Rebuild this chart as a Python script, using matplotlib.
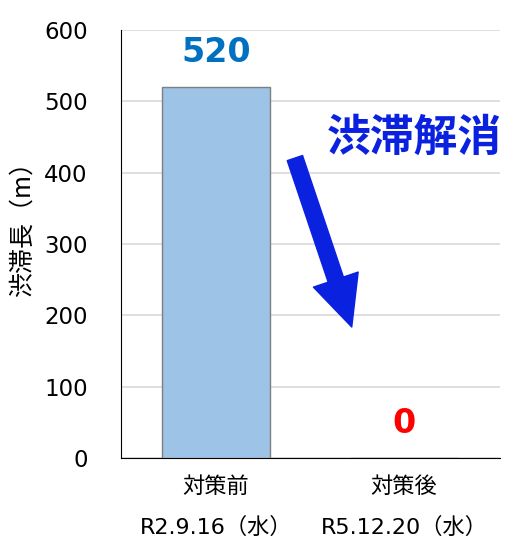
import matplotlib
matplotlib.use("Agg")
import matplotlib.pyplot as plt

plt.rcParams['font.family'] = ['DejaVu Sans', 'Noto Sans CJK JP']

# data
categories = ["対策前\nR2.9.16（水）", "対策後\nR5.12.20（水）"]
values = [520, 0]
label_colors = ["#0070C0", "#FF0000"]
yticks = [0, 100, 200, 300, 400, 500, 600]

fig = plt.figure(figsize=(5.06, 5.49), dpi=100)
ax = fig.add_axes([0.239, 0.166, 0.749, 0.779])

x = list(range(len(categories)))
ax.bar(x, values, width=0.575, color="#9DC3E6", edgecolor="#7F7F7F", linewidth=1, zorder=3)

for xi, v, c in zip(x, values, label_colors):
    ax.annotate(str(v), (xi, v), xytext=(0, 25), textcoords="offset points",
                ha="center", va="center", fontsize=24, fontweight="bold", color=c)

ax.set_xlim(-0.505, 1.51)
ax.set_ylim(0, 600)
ax.set_yticks(yticks)
ax.set_xticks(x)
ax.set_xticklabels(categories, fontsize=16, linespacing=2.15)
ax.tick_params(axis="y", labelsize=16.5, length=0, pad=24)
ax.tick_params(axis="x", length=0, pad=13)
ax.grid(axis="y", color="#D9D9D9", linewidth=1.2, zorder=0)
ax.spines["top"].set_visible(False)
ax.spines["right"].set_visible(False)
ax.spines["left"].set_color("black")
ax.spines["bottom"].set_color("black")
ax.set_ylabel("渋滞長（m）", fontsize=18, family=['Noto Sans CJK JP', 'DejaVu Sans'])
ax.yaxis.set_label_coords(-0.225, 0.55)

# annotation
ax.text(0.543, 0.748, "渋滞解消", transform=ax.transAxes, ha="left", va="center",
        fontsize=31.5, fontweight="bold", color="#0A22E0",
        family=['Noto Sans CJK JP', 'DejaVu Sans'], clip_on=False)
ax.annotate("", xy=(0.609, 0.306), xytext=(0.459, 0.701),
            xycoords="axes fraction", textcoords="axes fraction",
            arrowprops=dict(arrowstyle="simple,head_width=1.7,head_length=1.8,tail_width=0.58",
                            mutation_scale=20, color="#0A22E0", shrinkA=0, shrinkB=0))

fig.savefig("out.png", dpi=100)
